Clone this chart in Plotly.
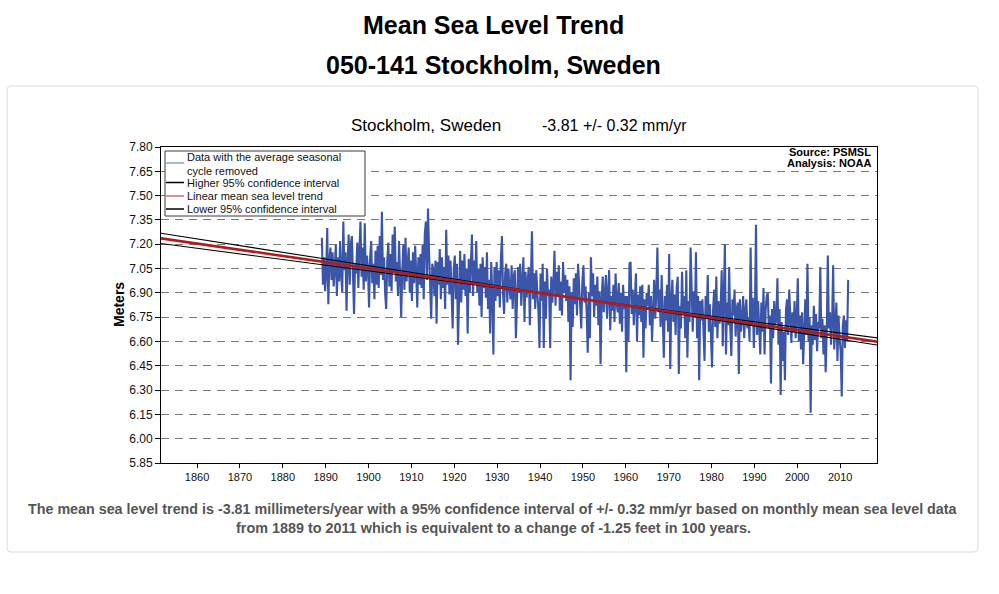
import plotly.graph_objects as go

# ---------------- data ----------------
first_year = 1889
last_year = 2011
# sea level (m), four readings per year, seasonal cycle removed
msl = [
    7.24, 6.95, 7.12, 6.91,  # 1889
    7.02, 7.30, 6.83, 7.10,
    7.18, 6.98, 7.15, 6.94,
    7.05, 7.20, 6.88, 7.12,
    6.97, 7.22, 7.01, 6.90,
    7.34, 7.04, 7.15, 6.79,
    7.10, 7.26, 6.95, 7.20,
    7.25, 6.99, 6.77, 7.08,
    7.02, 7.21, 6.93, 7.16,
    7.34, 7.00, 7.18, 6.92,
    7.33, 6.97, 7.13, 7.05,
    6.81, 7.12, 7.22, 6.96,  # 1900
    7.08, 6.86, 7.16, 6.95,
    7.19, 6.93, 7.25, 7.01,
    7.40, 6.98, 7.12, 6.90,
    6.80, 7.10, 7.21, 6.94,
    7.14, 6.91, 7.26, 7.03,
    7.31, 6.97, 7.09, 6.88,
    7.22, 6.99, 6.75, 7.04,
    7.20, 6.92, 7.24, 6.97,
    7.05, 7.18, 6.90, 7.10,
    6.85, 7.15, 6.96, 7.19,  # 1910
    7.02, 6.81, 7.12, 6.95,
    7.14, 6.93, 7.20, 6.86,
    7.26, 7.34, 6.98, 7.42,
    7.15, 6.90, 6.74, 7.08,
    7.04, 6.88, 7.10, 6.71,
    7.09, 6.95, 7.17, 6.86,
    7.12, 6.93, 7.06, 6.80,
    7.29, 6.95, 7.13, 6.89,
    7.10, 6.90, 6.68, 7.05,
    7.13, 6.86, 7.08, 6.58,  # 1920
    7.02, 7.16, 6.84, 7.10,
    6.92, 7.14, 6.88, 7.05,
    6.65, 7.11, 6.90, 7.04,
    7.26, 6.88, 7.10, 6.95,
    7.22, 6.90, 7.05, 6.82,
    7.08, 6.75, 7.12, 6.93,
    7.06, 6.87, 7.15, 6.80,
    6.98, 6.65, 7.09, 6.89,
    6.52, 7.06, 6.85, 7.09,
    6.88, 7.04, 6.81, 7.11,  # 1930
    7.25, 6.90, 6.77, 7.02,
    7.08, 6.84, 7.05, 6.93,
    6.86, 7.07, 6.80, 7.00,
    7.04, 6.62, 6.95, 7.06,
    6.90, 7.08, 6.82, 7.01,
    7.12, 6.72, 7.03, 6.87,
    6.95, 7.06, 6.70, 7.01,
    7.28, 6.86, 7.02, 6.80,
    7.04, 6.90, 6.79, 6.56,
    7.02, 6.85, 7.08, 6.56,  # 1940
    6.97, 6.74, 7.05, 6.88,
    6.92, 6.56, 7.00, 6.84,
    6.95, 7.16, 6.82, 7.03,
    6.88, 7.07, 6.79, 6.97,
    6.76, 7.09, 6.90, 7.01,
    6.85, 6.98, 6.72, 6.94,
    6.36, 6.90, 6.69, 6.99,
    6.83, 7.02, 6.76, 7.08,
    6.93, 6.80, 6.68, 6.97,
    7.07, 6.84, 6.94, 6.78,  # 1950
    6.53, 6.90, 6.62, 7.12,
    6.88, 7.02, 6.75, 6.95,
    6.82, 7.00, 6.70, 6.91,
    6.46, 6.86, 7.00, 6.78,
    6.90, 7.01, 6.74, 6.93,
    7.04, 6.67, 6.88, 6.79,
    6.95, 6.72, 7.02, 6.84,
    6.78, 6.96, 6.71, 6.90,
    6.66, 6.95, 6.80, 6.88,
    6.41, 6.88, 6.60, 7.08,  # 1960
    7.09, 6.77, 6.92, 6.70,
    6.85, 7.02, 6.60, 6.89,
    6.76, 6.94, 6.72, 6.95,
    6.50, 6.86, 6.68, 6.90,
    6.82, 6.95, 6.70, 6.88,
    6.60, 6.84, 6.98, 6.74,
    6.90, 7.18, 6.78, 6.92,
    6.69, 7.01, 6.81, 6.50,
    6.88, 6.73, 6.95, 6.66,
    7.14, 6.43, 6.84, 6.98,  # 1970
    6.72, 6.89, 6.64, 6.93,
    7.00, 6.40, 6.82, 6.68,
    7.03, 6.78, 6.88, 6.62,
    7.04, 6.50, 6.85, 6.72,
    7.18, 6.80, 6.66, 6.91,
    6.75, 7.15, 6.62, 6.88,
    6.36, 6.85, 6.73, 6.86,
    6.70, 6.48, 6.88, 6.76,
    7.01, 6.66, 6.83, 6.58,
    6.44, 6.80, 6.92, 6.69,  # 1980
    7.00, 6.62, 6.85, 6.71,
    6.80, 7.04, 6.57, 6.88,
    7.20, 6.52, 6.84, 6.70,
    7.06, 6.69, 6.51, 6.86,
    6.76, 6.92, 6.63, 6.80,
    6.84, 6.40, 6.86, 6.66,
    6.74, 6.88, 6.62, 6.79,
    6.86, 6.68, 6.75, 6.60,
    7.18, 6.70, 6.87, 6.56,
    6.78, 7.32, 6.64, 6.85,  # 1990
    6.70, 6.52, 6.84, 6.66,
    6.93, 6.52, 6.79, 6.88,
    6.90, 6.68, 6.76, 6.34,
    6.80, 6.62, 6.85, 6.70,
    6.74, 6.99, 6.58, 6.80,
    6.27, 6.72, 6.48, 6.66,
    6.36, 6.80, 6.86, 6.64,
    6.92, 6.70, 6.59, 6.78,
    6.66, 6.85, 6.62, 6.74,
    6.99, 6.60, 6.76, 6.55,  # 2000
    6.78, 6.46, 6.72, 6.86,
    6.64, 7.08, 6.60, 6.75,
    6.16, 6.70, 6.58, 6.82,
    6.61, 6.77, 6.54, 6.72,
    6.68, 7.06, 6.62, 6.74,
    6.52, 6.70, 6.41, 6.66,
    7.13, 6.68, 6.78, 6.58,
    6.72, 7.07, 6.55, 6.70,
    6.84, 6.48, 6.76, 6.62,
    6.54, 6.26, 6.70, 6.76,
    6.56, 6.73, 6.60, 6.98,  # 2011
]
line_years = [1850, 2020]
trend_vals = [7.242, 6.594]
ci_high_vals = [7.274, 6.572]
ci_low_vals = [7.210, 6.617]
x_ticks = [1860, 1870, 1880, 1890, 1900, 1910, 1920, 1930, 1940, 1950, 1960, 1970, 1980, 1990, 2000, 2010]
y_ticks = [5.85, 6.00, 6.15, 6.30, 6.45, 6.60, 6.75, 6.90, 7.05, 7.20, 7.35, 7.50, 7.65, 7.80]

per_year = 4
msl_x = [first_year + (i + 0.5) / per_year for i in range(len(msl))]

# ---------------- figure ----------------
W, H = 999, 594
L, R, T, B = 161, 877, 147, 463
FONT = "Liberation Sans, Arial, sans-serif"


def px(x):
    return (x - L) / (R - L)


def py(y):
    return (B - y) / (B - T)


fig = go.Figure()
fig.add_trace(go.Scatter(x=msl_x, y=msl, mode="lines",
                         line=dict(color="#3b55a8", width=2.1), showlegend=False,
                         name="Data with the average seasonal cycle removed"))
fig.add_trace(go.Scatter(x=line_years, y=ci_high_vals, mode="lines",
                         line=dict(color="#000000", width=1.1), showlegend=False,
                         name="Higher 95% confidence interval"))
fig.add_trace(go.Scatter(x=line_years, y=ci_low_vals, mode="lines",
                         line=dict(color="#000000", width=1.1), showlegend=False,
                         name="Lower 95% confidence interval"))
fig.add_trace(go.Scatter(x=line_years, y=trend_vals, mode="lines",
                         line=dict(color="#b01c1c", width=2.6), showlegend=False,
                         name="Linear mean sea level trend"))

fig.update_layout(
    width=W, height=H,
    margin=dict(l=L, r=W - R, t=T, b=H - B, pad=0),
    paper_bgcolor="white", plot_bgcolor="white",
    font=dict(family=FONT, size=12, color="#111"),
    showlegend=False,
    xaxis=dict(range=[1851.6, 2018.6], tickvals=x_ticks, ticks="outside", ticklen=4,
               tickcolor="#000", showgrid=False, zeroline=False, showline=True,
               linecolor="#000", linewidth=1, mirror=True,
               tickfont=dict(family=FONT, size=11, color="#111")),
    yaxis=dict(range=[5.85, 7.80], tickvals=y_ticks, tickformat=".2f", ticks="outside",
               ticklen=5, tickcolor="#000", showgrid=True, gridcolor="#7a7a7a",
               griddash="8px,6px", gridwidth=1, zeroline=False, showline=True,
               linecolor="#000", linewidth=1, mirror=True,
               tickfont=dict(family=FONT, size=12, color="#111")),
)

# outer rounded panel
x0, x1, y0, y1 = px(7), px(978), py(552), py(86)
rx, ry = 4 / (R - L), 4 / (B - T)
path = (f"M {x0+rx},{y1} L {x1-rx},{y1} Q {x1},{y1} {x1},{y1-ry} L {x1},{y0+ry} "
        f"Q {x1},{y0} {x1-rx},{y0} L {x0+rx},{y0} Q {x0},{y0} {x0},{y0+ry} "
        f"L {x0},{y1-ry} Q {x0},{y1} {x0+rx},{y1} Z")
fig.add_shape(type="path", path=path, xref="paper", yref="paper",
              line=dict(color="#dcdcdc", width=1), fillcolor="rgba(0,0,0,0)", layer="below")

# legend drawn by hand
fig.add_shape(type="rect", xref="paper", yref="paper", x0=px(165), x1=px(365), y0=py(216), y1=py(151),
              line=dict(color="#3a3a3a", width=1), fillcolor="white", layer="above")
legend_rows = [
    ("#8c9fd4", 163, "Data with the average seasonal<br>cycle removed", 164),
    ("#000000", 182.5, "Higher 95% confidence interval", 182.5),
    ("#c97070", 196, "Linear mean sea level trend", 196),
    ("#000000", 209, "Lower 95% confidence interval", 209),
]
for color, ly, text, ty in legend_rows:
    fig.add_shape(type="line", xref="paper", yref="paper", x0=px(166), x1=px(184), y0=py(ly), y1=py(ly),
                  line=dict(color=color, width=1.5), layer="above")
    fig.add_annotation(text=text, xref="paper", yref="paper", x=px(186), y=py(ty),
                       xanchor="left", yanchor="middle", align="left", showarrow=False,
                       borderpad=0,
                       font=dict(family=FONT, size=11, color="#111"))

ann = [
    ("Mean Sea Level Trend", 493, 25, 25, True, "#000"),
    ("050-141 Stockholm, Sweden", 493, 65, 25, True, "#000"),
    ("Stockholm, Sweden", 426, 125, 17, False, "#000"),
    ("-3.81 +/- 0.32 mm/yr", 614, 125, 16, False, "#000"),
    ("The mean sea level trend is -3.81 millimeters/year with a 95% confidence interval of +/- 0.32 mm/yr based on monthly mean sea level data",
     493, 509, 14.3, True, "#555"),
    ("from 1889 to 2011 which is equivalent to a change of -1.25 feet in 100 years.",
     493, 528, 14.4, True, "#555"),
]
for text, ax_, ay_, size, bold, color in ann:
    fig.add_annotation(text=f"<b>{text}</b>" if bold else text, xref="paper", yref="paper",
                       x=px(ax_), y=py(ay_), xanchor="center", yanchor="middle", showarrow=False,
                       font=dict(family=FONT, size=size, color=color))

for text, ay_ in [("Source: PSMSL", 152), ("Analysis: NOAA", 163)]:
    fig.add_annotation(text=f"<b>{text}</b>", xref="paper", yref="paper", x=px(872), y=py(ay_),
                       xanchor="right", yanchor="middle", showarrow=False, borderpad=0,
                       font=dict(family=FONT, size=11, color="#000"))

fig.add_annotation(text="<b>Meters</b>", xref="paper", yref="paper", x=px(119), y=py(305),
                   xanchor="center", yanchor="middle", textangle=-90, showarrow=False,
                   font=dict(family=FONT, size=14, color="#000"))

fig.write_html("out.html", config={"displayModeBar": False},
               post_script="document.body.style.margin='0px';")
